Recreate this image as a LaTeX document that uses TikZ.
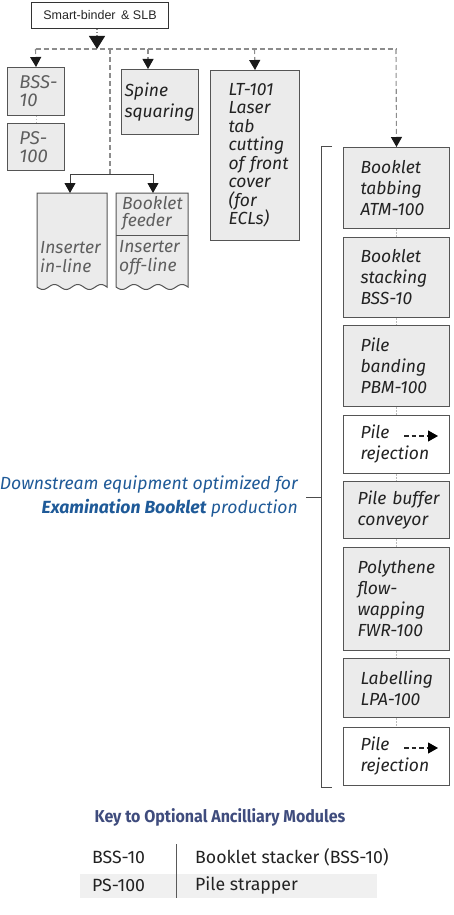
\documentclass[tikz,border=0pt]{standalone}
\usepackage{fontspec}
\setmainfont{Fira Sans}
\newfontfamily\arialfont{Liberation Sans}
\newfontfamily\keyfont[FakeStretch=0.93]{Fira Sans}
\usetikzlibrary{arrows.meta}
\definecolor{boxfill}{HTML}{EBEBEB}
\definecolor{boxline}{HTML}{555555}
\definecolor{dashgray}{HTML}{8C8C8C}
\definecolor{dotgray}{HTML}{BBBBBB}
\definecolor{txt}{HTML}{222222}
\definecolor{softtxt}{HTML}{5E5E5E}
\definecolor{bluetxt}{HTML}{1F5A98}
\definecolor{keyblue}{HTML}{3F4C7D}
\definecolor{rowshade}{HTML}{F0F0F0}
\begin{document}
\begin{tikzpicture}[x=1pt,y=-1pt,
  modbox/.style={draw=boxline, fill=boxfill, line width=1pt, anchor=north west,
    inner ysep=0pt, align=left, font=\itshape\fontsize{17.5}{21}\selectfont, text=txt},
  rbox/.style={modbox, minimum width=106pt, text width=72pt, inner xsep=17pt},
  rejbox/.style={rbox, fill=white},
  optbox/.style={modbox, minimum width=57pt, text width=50pt, inner xsep=3.5pt,
    text=softtxt, font=\itshape\fontsize{18.5}{18}\selectfont},
  instext/.style={anchor=west, align=left, inner sep=0pt, text=softtxt,
    font=\itshape\fontsize{17.5}{18.5}\selectfont},
  insshape/.style={draw=boxline, fill=boxfill, line width=1pt},
  dline/.style={draw=dashgray, line width=1.1pt, dash pattern=on 5pt off 3pt},
  dotline/.style={draw=dashgray, line width=1.1pt, dash pattern=on 1.5pt off 1.5pt},
  conn/.style={draw=dotgray, line width=1pt, dash pattern=on 1.5pt off 1.5pt},
  solidline/.style={draw=black!75, line width=1pt},
  tip/.style={-{Triangle[width=11pt,length=10pt,color=black!90]}},
  bigtip/.style={-{Triangle[width=16pt,length=13pt,color=black!90]}},
  smalltip/.style={-{Triangle[width=11pt,length=10pt,color=black]}},
  bracket/.style={draw=black!70, line width=0.9pt},
  keytext/.style={anchor=west, inner sep=0pt, text=txt, font=\fontsize{17.7}{18}\selectfont}
]
\useasboundingbox (0,0) rectangle (453,915);
\fill[white] (0,0) rectangle (453,915);

% top box
\node[draw=black!80, fill=white, line width=1pt, minimum width=137pt, minimum height=26pt,
  anchor=north west, inner sep=0pt, font=\arialfont\fontsize{12.5}{14}\selectfont, text=black!85]
  (sb) at (31,2) {Smart-binder \,\& SLB};

% left optional boxes
\node[optbox, minimum height=48pt] (bssb) at (7,67) {\hspace*{8.5pt}\mbox{BSS-}\\\hspace*{8.5pt}10};
\node[optbox, minimum height=47pt] (psb) at (7,123) {\hspace*{8.5pt}\mbox{PS-}\\\hspace*{8.5pt}100};

% spine squaring and LT-101
\node[modbox, minimum width=77pt, minimum height=65pt, text width=71pt, inner xsep=3pt] (spine) at (121,69) {Spine\\squaring};
\node[modbox, minimum width=89pt, minimum height=170pt, text width=53pt, inner xsep=18pt,
  font=\itshape\fontsize{17.5}{18.5}\selectfont] (lt) at (210,70)
  {LT-101\\Laser\\tab\\cutting\\of~front\\cover\\(for\\ECLs)};

% inserters
\draw[insshape] (37,287) -- (37,193) -- (107,193) -- (107,287)
  -- plot[domain=107:37, samples=80] (\x,{287+2.5*sin(15.45*(\x-37))}) -- cycle;
\draw[insshape] (116,287) -- (116,193) -- (188,193) -- (188,287)
  -- plot[domain=188:116, samples=80] (\x,{287+2.5*sin(15*(\x-116))}) -- cycle;
\draw[insshape] (116,235) -- (188,235);
\node[instext] (ins1) at (40,257) {Inserter\\in-line};
\node[instext, font=\itshape\fontsize{17.5}{17}\selectfont] (feed) at (122,213) {Booklet\\feeder};
\node[instext] (ins2) at (119,258) {Inserter\\off-line};
\coordinate (ins1top) at (70,193);
\coordinate (ins2top) at (153,193);

% right column
\node[rbox, minimum height=81pt] (atm) at (343,147) {Booklet\\tabbing\\ATM-100};
\node[rbox, minimum height=80pt] (bss) at (343,237) {Booklet\\stacking\\BSS-10};
\node[rbox, minimum height=81pt] (pbm) at (343,325) {Pile\\banding\\PBM-100};
\node[rejbox, minimum height=58pt] (rej1) at (343,415) {Pile\\rejection};
\node[rbox, minimum height=57pt, inner xsep=14pt, text width=78pt] (buf) at (343,481) {Pile~buffer\\conveyor};
\node[rbox, minimum height=103pt, inner xsep=14pt, text width=78pt] (fwr) at (343,547) {Polythene\\flow-\\wapping\\FWR-100};
\node[rbox, minimum height=59pt] (lpa) at (343,658) {Labelling\\LPA-100};
\node[rejbox, minimum height=58pt] (rej2) at (343,727) {Pile\\rejection};

% rejection arrows
\coordinate (r1a) at (404,436); \coordinate (r1b) at (438,436);
\coordinate (r2a) at (404,748); \coordinate (r2b) at (438,748);
\draw[draw=black!85, line width=1.1pt, dash pattern=on 4.5pt off 3pt, smalltip] (r1a) -- (r1b);
\draw[draw=black!85, line width=1.1pt, dash pattern=on 4.5pt off 3pt, smalltip] (r2a) -- (r2b);

% dotted connectors
\draw[conn] (bssb.south) -- (psb.north);
\draw[conn] (atm.south) -- (bss.north);
\draw[conn] (bss.south) -- (pbm.north);
\draw[conn] (pbm.south) -- (rej1.north);
\draw[conn] (rej1.south) -- (buf.north);
\draw[conn] (buf.south) -- (fwr.north);
\draw[conn] (fwr.south) -- (lpa.north);
\draw[conn] (lpa.south) -- (rej2.north);

% bus
\coordinate (busT) at (97,49);
\coordinate (busL) at (35.5,49);
\coordinate (busR) at (396,49);
\coordinate (busS) at (148,49);
\coordinate (busLT) at (254.5,49);
\coordinate (busI) at (110,49);
\coordinate (jI) at (110,174);
\coordinate (jIL) at (70,174);
\coordinate (jIR) at (153,174);
\draw[dline] (busL) -- (busR);
\draw[dotline, bigtip] (sb.south -| busT) -- (busT);
\draw[dline, tip] (busR) -- (atm.north);
\draw[dline, tip] (busL) -- (bssb.north);
\draw[dline, tip] (busS) -- (busS |- spine.north);
\draw[dline, tip] (busLT) -- (lt.north);
\draw[dline] (busI) -- (jI);
\draw[solidline] (jIL) -- (jIR);
\draw[solidline, tip] (jIL) -- (ins1top);
\draw[solidline, tip] (jIR) -- (ins2top);

% bracket
\coordinate (br0) at (332,146); \coordinate (br1) at (321,146);
\coordinate (br2) at (321,787); \coordinate (br3) at (332,787);
\coordinate (bm0) at (321,497); \coordinate (bm1) at (306,497);
\draw[bracket] (br0) -- (br1) -- (br2) -- (br3);
\draw[bracket] (bm0) -- (bm1);
\node[anchor=east, align=right, inner sep=0pt, text=bluetxt,
  font=\itshape\fontsize{17.6}{24}\selectfont] (down) at (298,497)
  {Downstream equipment optimized for\\\textbf{Examination Booklet} production};

% key
\node[text=keyblue, inner sep=0pt, font=\keyfont\bfseries\fontsize{17.2}{20}\selectfont] (kt) at (220,817)
  {Key to Optional Ancilliary Modules};
\fill[rowshade] (80,874) rectangle (377,898);
\coordinate (kl0) at (176,844); \coordinate (kl1) at (176,898);
\draw[draw=black!65, line width=1pt] (kl0) -- (kl1);
\node[keytext] (k1a) at (92,857) {BSS-10};
\node[keytext] (k1b) at (195,857) {Booklet stacker (BSS-10)};
\node[keytext] (k2a) at (92,885) {PS-100};
\node[keytext] (k2b) at (195,885) {Pile strapper};
\end{tikzpicture}
\end{document}
